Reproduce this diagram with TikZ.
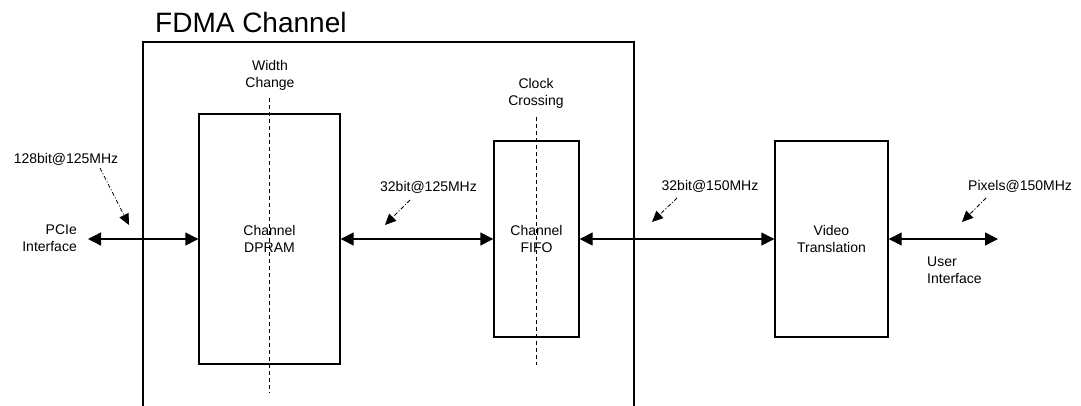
\documentclass[tikz,border=0pt]{standalone}
\usepackage{fontspec}
\setmainfont{Liberation Sans}
\usetikzlibrary{arrows.meta}
\begin{document}
\begin{tikzpicture}[x=1pt, y=-1pt,
   every node/.style={font=\fontsize{14}{17}\selectfont, inner sep=0pt},
   blk/.style={draw, line width=1.4pt, align=center},
   bus/.style={line width=1.4pt, {Triangle[length=13pt,width=13pt]}-{Triangle[length=13pt,width=13pt]}},
   note/.style={line width=0.8pt, dash pattern=on 4pt off 2pt on 1pt off 2pt, -{Triangle[length=11pt,width=10pt]}},
   cut/.style={line width=0.9pt, dash pattern=on 4pt off 3pt}]
\clip (0,0) rectangle (1081,405);
\draw[line width=1.4pt] (143,42) rectangle (634,420);
\node[anchor=base west, font=\fontsize{28}{30}\selectfont] (title) at (155,32) {FDMA Channel};

\node[blk, minimum width=141pt, minimum height=250pt] (dpram) at (269.5,239) {Channel\\DPRAM};
\node[blk, minimum width=85pt, minimum height=196pt] (fifo) at (536.5,239) {Channel\\FIFO};
\node[blk, minimum width=113pt, minimum height=196pt] (video) at (831.5,239) {Video\\Translation};

\node[anchor=north, align=center] (width) at (270,60) {Width\\Change};
\node[anchor=north, align=center] (clock) at (536,78) {Clock\\Crossing};
\node[anchor=north east, align=right] (pcie) at (77,225) {PCIe\\Interface};
\node[anchor=north west, align=left] (user) at (927,257) {User\\Interface};

\node[anchor=base] (rate1) at (66,163) {128bit@125MHz};
\node[anchor=base] (rate2) at (428.5,191) {32bit@125MHz};
\node[anchor=base] (rate3) at (710,190) {32bit@150MHz};
\node[anchor=base west] (rate4) at (968,190) {Pixels@150MHz};

\coordinate (pcieend) at (88,239);
\coordinate (userend) at (998,239);
\coordinate (widthtop) at (269,98);
\coordinate (widthbot) at (269,393);
\coordinate (clocktop) at (536,117);
\coordinate (clockbot) at (536,365);
\coordinate (tail1) at (100,168);
\coordinate (head1) at (129,225);
\coordinate (tail2) at (410,200);
\coordinate (head2) at (385,225);
\coordinate (tail3) at (677,198);
\coordinate (head3) at (652,222);
\coordinate (tail4) at (986,198);
\coordinate (head4) at (962,222);

\draw[bus] (pcieend) -- (dpram.west);
\draw[bus] (dpram.east) -- (fifo.west);
\draw[bus] (fifo.east) -- (video.west);
\draw[bus] (video.east) -- (userend);

\draw[cut] (widthtop) -- (widthbot);
\draw[cut] (clocktop) -- (clockbot);

\draw[note] (tail1) -- (head1);
\draw[note] (tail2) -- (head2);
\draw[note] (tail3) -- (head3);
\draw[note] (tail4) -- (head4);
\end{tikzpicture}
\end{document}
